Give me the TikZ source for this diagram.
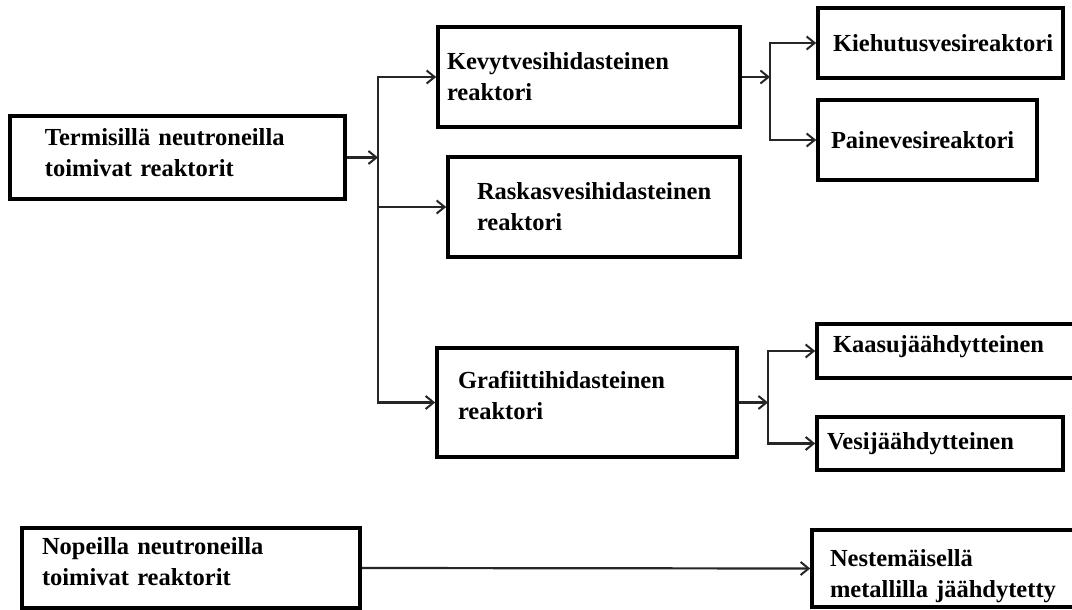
\documentclass[tikz,border=0pt]{standalone}
\usepackage{fontspec}
\setmainfont{Liberation Serif}
\usetikzlibrary{arrows.meta}
\tikzset{
  box/.style={draw=black, line width=3.6pt, rectangle, align=left, anchor=center,
    font=\bfseries\fontsize{24.5}{31}\selectfont, inner ysep=0pt},
  arr/.style={draw=black!85, line width=2.2pt, -{Straight Barb[length=8pt,width=13pt,line width=2pt]}}
}
\newcommand{\bx}[8]{% name, cx, cy, W, H, xsep, text
  \pgfmathsetmacro{\tw}{#4-2*#6}
  \node[box, minimum width=#4pt, minimum height=#5pt, inner xsep=#6pt, text width=\tw pt] (#1) at (#2,#3) {#7};}
\newcommand{\dn}[1]{\rule[-#1pt]{0pt}{1pt}}
\begin{document}
\begin{tikzpicture}[x=1pt,y=-1pt]
\useasboundingbox (0,0) rectangle (1072,610);
\fill[white] (0,0) rectangle (1072,610);
\bx{term}{177.5}{157.5}{335}{83}{35}{Termisillä neutroneilla\\toimivat reaktorit\dn{9}}{}
\bx{kevyt}{589}{77}{302}{100}{9}{Kevytvesihidasteinen\\reaktori}{}
\bx{raskas}{594}{207}{292}{100}{29}{Raskasvesihidasteinen\\reaktori}{}
\bx{graf}{587}{402.5}{300}{109}{21}{Grafiittihidasteinen\\reaktori\dn{15}}{}
\bx{kieh}{940.5}{43}{245}{70}{15}{Kiehutusvesireaktori}{}
\bx{paine}{927.5}{140}{219}{80}{13}{Painevesireaktori}{}
\bx{kaasu}{948.5}{351}{263}{54}{16}{Kaasujäähdytteinen\dn{14}}{}
\bx{vesi}{940}{443.5}{246}{53}{10}{Vesijäähdytteinen}{}
\bx{nop}{191}{568}{338}{80}{20}{Nopeilla neutroneilla\\toimivat reaktorit\dn{14}}{}
\bx{nest}{946}{568.5}{268}{77}{18}{\rule{0pt}{32pt}Nestemäisellä\\metallilla jäähdytetty}{}
\coordinate (v1) at (378,157.5);
\coordinate (v2) at (770,77);
\coordinate (v3) at (768,402.5);
\draw[arr] (term.east) -- (v1);
\draw[arr] (v1) |- (kevyt.west);
\draw[arr] (v1) |- (raskas.west);
\draw[arr] (v1) |- (graf.west);
\draw[arr] (kevyt.east) -- (v2);
\draw[arr] (v2) |- (kieh.west);
\draw[arr] (v2) |- (paine.west);
\draw[arr] (graf.east) -- (v3);
\draw[arr] (v3) |- (kaasu.west);
\draw[arr] (v3) |- (vesi.west);
\draw[arr] (nop.east) -- (nest.west);
\end{tikzpicture}
\end{document}
